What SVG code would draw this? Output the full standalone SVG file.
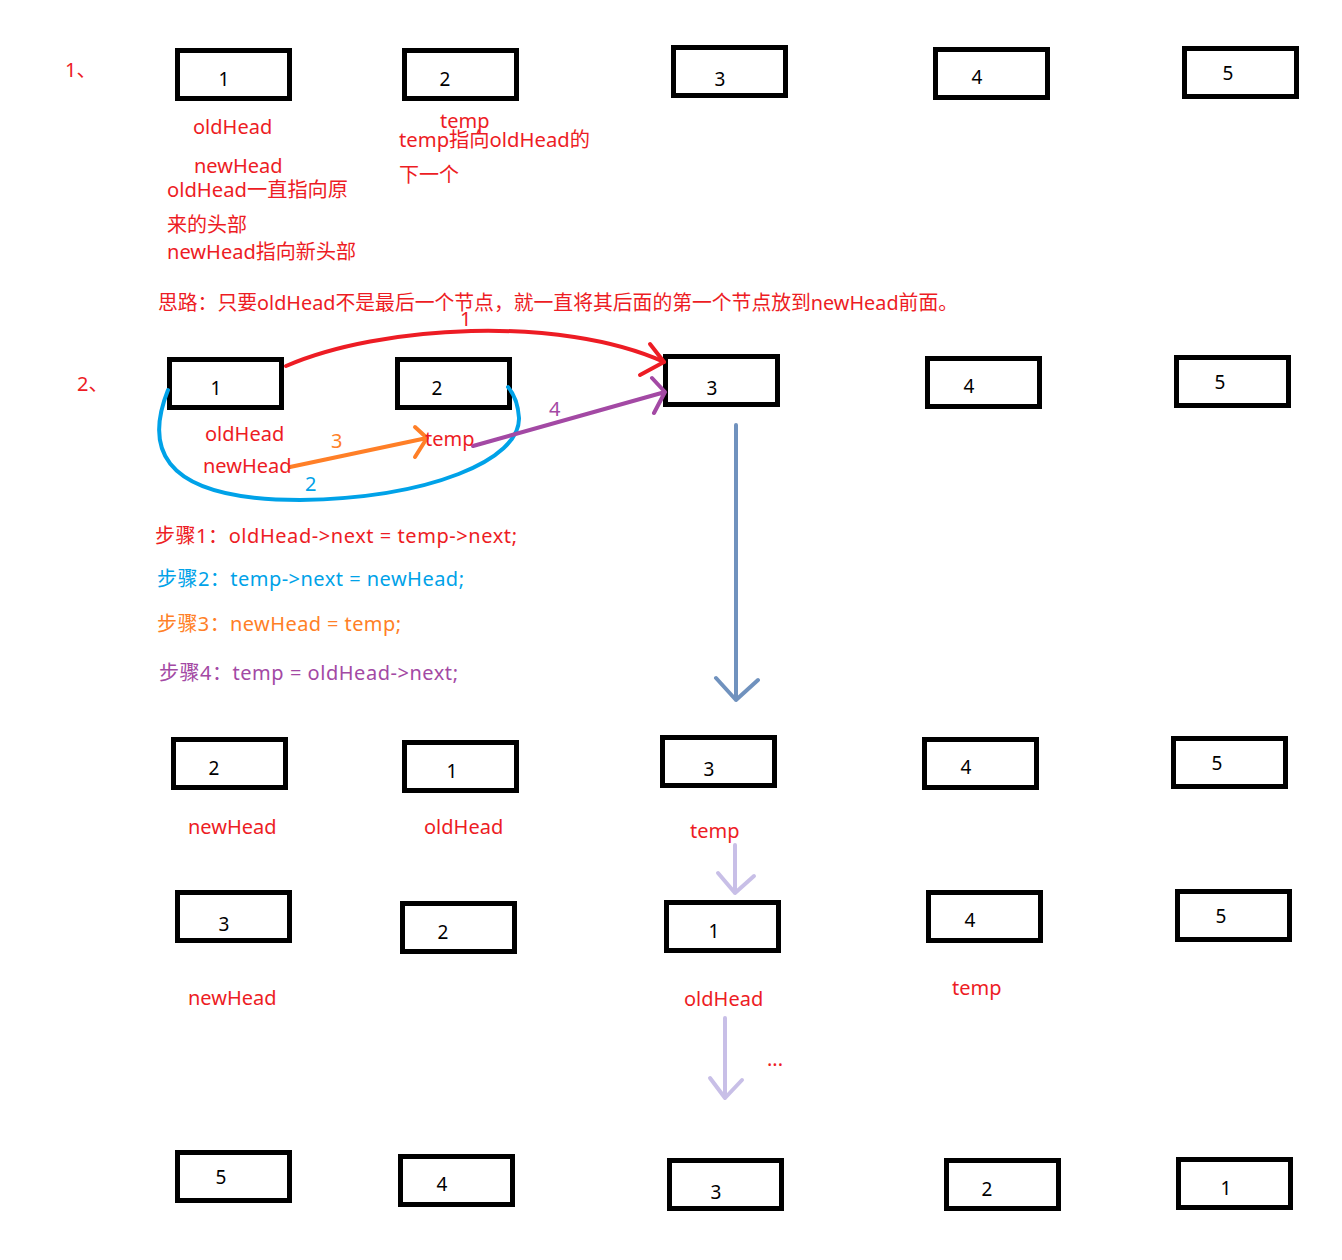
<svg xmlns="http://www.w3.org/2000/svg" width="1342" height="1260" viewBox="0 0 1342 1260">
<style>
.box{fill:#fff;stroke:#000;stroke-width:5}
.num{font-family:"Noto Sans","Noto Sans CJK SC",sans-serif;font-size:19px;fill:#000;text-anchor:middle}
.t{font-family:"Noto Sans","Noto Sans CJK SC",sans-serif;font-size:20px;fill:#ed1c24}
.blue{fill:#00a2e8}.orange{fill:#ff7f27}.purple{fill:#a349a4}
.ln{fill:none;stroke-width:4;stroke-linecap:round;stroke-linejoin:round}
</style>
<rect width="1342" height="1260" fill="#fff"/>
<g id="r1n1"><rect class="box" x="177.5" y="50.5" width="112" height="48"/><text class="num" x="224" y="86">1</text></g>
<g id="r1n2"><rect class="box" x="404.5" y="50.5" width="112" height="48"/><text class="num" x="445" y="86">2</text></g>
<g id="r1n3"><rect class="box" x="673.5" y="47.5" width="112" height="48"/><text class="num" x="720" y="86">3</text></g>
<g id="r1n4"><rect class="box" x="935.5" y="49.5" width="112" height="48"/><text class="num" x="977" y="84">4</text></g>
<g id="r1n5"><rect class="box" x="1184.5" y="48.5" width="112" height="48"/><text class="num" x="1228" y="80">5</text></g>

<g id="r2n1"><rect class="box" x="169.5" y="359.5" width="112" height="48"/><text class="num" x="216" y="395">1</text></g>
<g id="r2n2"><rect class="box" x="397.5" y="359.5" width="112" height="48"/><text class="num" x="437" y="395">2</text></g>
<g id="r2n3"><rect class="box" x="665.5" y="356.5" width="112" height="48"/><text class="num" x="712" y="395">3</text></g>
<g id="r2n4"><rect class="box" x="927.5" y="358.5" width="112" height="48"/><text class="num" x="969" y="393">4</text></g>
<g id="r2n5"><rect class="box" x="1176.5" y="357.5" width="112" height="48"/><text class="num" x="1220" y="389">5</text></g>

<g id="r3n1"><rect class="box" x="173.5" y="739.5" width="112" height="48"/><text class="num" x="214" y="775">2</text></g>
<g id="r3n2"><rect class="box" x="404.5" y="742.5" width="112" height="48"/><text class="num" x="452" y="778">1</text></g>
<g id="r3n3"><rect class="box" x="662.5" y="737.5" width="112" height="48"/><text class="num" x="709" y="776">3</text></g>
<g id="r3n4"><rect class="box" x="924.5" y="739.5" width="112" height="48"/><text class="num" x="966" y="774">4</text></g>
<g id="r3n5"><rect class="box" x="1173.5" y="738.5" width="112" height="48"/><text class="num" x="1217" y="770">5</text></g>

<g id="r4n1"><rect class="box" x="177.5" y="892.5" width="112" height="48"/><text class="num" x="224" y="931">3</text></g>
<g id="r4n2"><rect class="box" x="402.5" y="903.5" width="112" height="48"/><text class="num" x="443" y="939">2</text></g>
<g id="r4n3"><rect class="box" x="666.5" y="902.5" width="112" height="48"/><text class="num" x="714" y="938">1</text></g>
<g id="r4n4"><rect class="box" x="928.5" y="892.5" width="112" height="48"/><text class="num" x="970" y="927">4</text></g>
<g id="r4n5"><rect class="box" x="1177.5" y="891.5" width="112" height="48"/><text class="num" x="1221" y="923">5</text></g>

<g id="r5n1"><rect class="box" x="177.5" y="1152.5" width="112" height="48"/><text class="num" x="221" y="1184">5</text></g>
<g id="r5n2"><rect class="box" x="400.5" y="1156.5" width="112" height="48"/><text class="num" x="442" y="1191">4</text></g>
<g id="r5n3"><rect class="box" x="669.5" y="1160.5" width="112" height="48"/><text class="num" x="716" y="1199">3</text></g>
<g id="r5n4"><rect class="box" x="946.5" y="1160.5" width="112" height="48"/><text class="num" x="987" y="1196">2</text></g>
<g id="r5n5"><rect class="box" x="1178.5" y="1159.5" width="112" height="48"/><text class="num" x="1226" y="1195">1</text></g>

<g id="connectors">
<path class="ln" stroke="#ed1c24" d="M286,366 C380,325 560,315 664,362"/>
<path class="ln" stroke="#ed1c24" d="M650,344 L664,362 L640,375"/>
<path class="ln" stroke="#00a2e8" d="M168,390 C148,440 150,500 300,500 C430,498 520,460 519,418 C518,402 514,394 508,387"/>
<path class="ln" stroke="#ff7f27" d="M290,467 L427,438 M415,427 L427,438 L415,457"/>
<path class="ln" stroke="#a349a4" d="M473,446 L665,392 M652,378 L665,392 L654,413"/>
<path class="ln" stroke="#7092be" d="M736,425 L736,700 M716,678 L736,700 L758,680"/>
<path class="ln" stroke="#c8bfe7" d="M735,845 L735,893 M718,873 L735,893 L754,876"/>
<path class="ln" stroke="#c8bfe7" d="M725,1018 L725,1098 M710,1078 L725,1098 L742,1080"/>
</g>

<g id="labels">
<text class="t" x="65" y="77" font-size="18">1、</text>
<text class="t" x="193" y="134">oldHead</text>
<text class="t" x="194" y="173">newHead</text>
<text class="t" x="167" y="197" textLength="181" lengthAdjust="spacingAndGlyphs">oldHead一直指向原</text>
<text class="t" x="167" y="232">来的头部</text>
<text class="t" x="167" y="259" textLength="189" lengthAdjust="spacingAndGlyphs">newHead指向新头部</text>
<text class="t" x="440" y="128">temp</text>
<text class="t" x="399" y="147" textLength="191" lengthAdjust="spacingAndGlyphs">temp指向oldHead的</text>
<text class="t" x="399" y="182">下一个</text>
<text class="t" x="158" y="310" textLength="800" lengthAdjust="spacingAndGlyphs">思路：只要oldHead不是最后一个节点，就一直将其后面的第一个节点放到newHead前面。</text>
<text class="t" x="77" y="391" font-size="18">2、</text>
<text class="t" x="460" y="326">1</text>
<text class="t" x="205" y="441">oldHead</text>
<text class="t" x="203" y="473">newHead</text>
<text class="t" x="425" y="446">temp</text>
<text class="t orange" x="331" y="448">3</text>
<text class="t blue" x="305" y="491">2</text>
<text class="t purple" x="549" y="416">4</text>
<text class="t" x="155" y="543" textLength="362" lengthAdjust="spacing">步骤1：oldHead-&gt;next = temp-&gt;next;</text>
<text class="t blue" x="157" y="586" textLength="307" lengthAdjust="spacing">步骤2：temp-&gt;next = newHead;</text>
<text class="t orange" x="157" y="631" textLength="244" lengthAdjust="spacing">步骤3：newHead = temp;</text>
<text class="t purple" x="159" y="680" textLength="299" lengthAdjust="spacing">步骤4：temp = oldHead-&gt;next;</text>
<text class="t" x="188" y="834">newHead</text>
<text class="t" x="424" y="834">oldHead</text>
<text class="t" x="690" y="838">temp</text>
<text class="t" x="188" y="1005">newHead</text>
<text class="t" x="684" y="1006">oldHead</text>
<text class="t" x="952" y="995">temp</text>
<text class="t" x="767" y="1066" font-size="14">...</text>
</g>
</svg>
